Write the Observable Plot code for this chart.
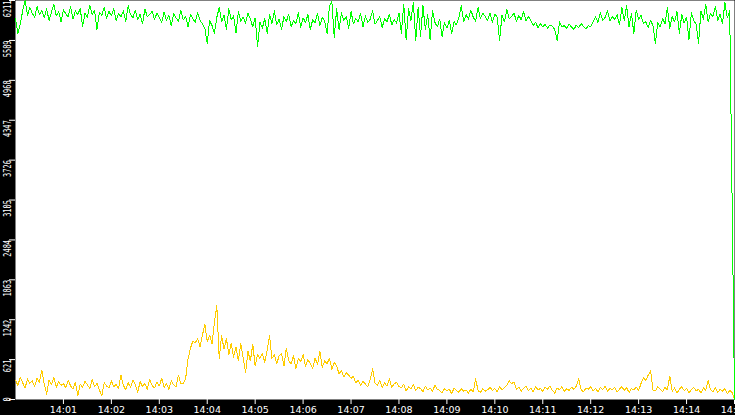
<!DOCTYPE html>
<html>
<head>
<meta charset="utf-8">
<script src="https://cdn.jsdelivr.net/npm/d3@7"></script>
<script src="https://cdn.jsdelivr.net/npm/@observablehq/plot@0.6"></script>
<style>
  html, body { margin: 0; padding: 0; background: black; overflow: hidden; }
  #chart { width: 735px; height: 415px; overflow: hidden; }
</style>
</head>
<body>
<div id="chart"></div>
<script>
// ---- data (sampled every 3 s from 14:00:00 to 14:15:00) ----
const startLabel = "14:00";
const endLabel = "14:15";
const stepSeconds = 3;

const greenValues = [
  5930, 5700, 5850, 6050, 6211, 5980, 6100, 6010, 5950, 6120,
  5990, 6060, 5940, 6080, 5900, 6030, 6150, 5970, 6040, 5880,
  6070, 6000, 5960, 6110, 5920, 6050, 5990, 6090, 5800, 6020,
  5950, 6140, 5990, 6060, 5760, 6030, 5980, 6100, 5930, 6040,
  5970, 6080, 5900, 6010, 5960, 6050, 5880, 6130, 5990, 5940,
  6060, 5910, 6000, 5850, 6080, 5960, 5990, 6040, 5920, 6010,
  5950, 5870, 6030, 5900, 5980, 5820, 6010, 5940, 5890, 6060,
  5910, 5960, 5800, 5990, 5930, 5870, 6020, 5900, 5850, 5780,
  5540, 5900, 5820, 5700, 5950, 6100, 5880, 5990, 5760, 6080,
  5910, 5970, 5700, 6040, 5890, 5950, 5860, 6010, 5920, 5800,
  5940, 5494, 5880, 5780, 5930, 5700, 5990, 5850, 6050, 5830,
  5920, 5760, 5960, 5880, 6000, 5800, 5900, 5850, 6020, 5790,
  5940, 5870, 5990, 5760, 5910, 5860, 6010, 5820, 5950, 5890,
  5700, 6120, 6190, 5640, 6080, 5760, 6020, 5900, 5960, 5780,
  6040, 5850, 5930, 5880, 6010, 5800, 5970, 5870, 5920, 6050,
  5840, 5900, 5960, 5790, 5930, 5880, 6000, 5830, 5910, 5860,
  6020, 5700, 6150, 5600, 6080, 5900, 6180, 5587, 6100, 5650,
  6130, 5760, 5990, 5600, 6050, 5870, 5800, 5920, 5650, 5870,
  5780, 5900, 5700, 5880, 5830, 5950, 6130, 5880, 5990, 5920,
  6060, 5950, 5890, 6100, 5930, 6010, 5960, 5900, 6020, 5870,
  6000, 5950, 5587, 5990, 5880, 6070, 5930, 5960, 6020, 5880,
  5980, 5910, 6040, 5890, 5960, 5900, 5820, 5870, 5790, 5850,
  5800, 5840, 5780, 5830, 5810, 5760, 5587, 5880, 5800, 5820,
  5780, 5840, 5800, 5760, 5830, 5790, 5850, 5810, 5770, 5820,
  5800, 5880, 5960, 5870, 6020, 5900, 5950, 6050, 5890, 5960,
  5920, 5990, 5830, 6100, 5900, 6133, 5800, 6010, 5700, 6060,
  5920, 5980, 5850, 5880, 5790, 5900, 5820, 5540, 5870, 5800,
  5930, 5850, 6100, 5780, 5960, 5880, 6040, 5700, 5990, 5860,
  5950, 5600, 6020, 5900, 5840, 5540, 6050, 5920, 6150, 5880,
  6010, 5960, 6120, 5900, 6000, 5850, 6180, 5940, 6050, 3105,
  0
];

const yellowValues = [
  300, 220, 350, 260, 180, 320, 250, 290, 200, 330,
  270, 460, 240, 85, 300, 230, 350, 190, 280, 220,
  250, 180, 300, 210, 160, 270, 55, 240, 190, 280,
  230, 170, 310, 200, 250, 150, 55, 260, 210, 180,
  290, 200, 240, 170, 380, 220, 150, 260, 190, 300,
  230, 110, 280, 200, 250, 160, 310, 220, 180, 270,
  210, 330, 190, 250, 160, 290, 230, 200, 380, 240,
  250, 330, 630, 800, 910, 880, 950, 820, 1000, 1175,
  900, 1000, 870, 1200, 1457, 640, 1000, 780, 950, 700,
  880, 660, 820, 600, 870, 650, 420, 750, 600, 860,
  520, 700, 640, 720, 580, 760, 990, 640, 700, 560,
  680, 720, 520, 800, 600, 560, 680, 480, 640, 590,
  700, 520, 620, 560, 480, 650, 540, 755, 500, 600,
  560, 640, 470, 580, 520, 400, 450, 350, 420, 380,
  330, 360, 260, 300, 220, 280, 240, 200, 310, 475,
  260, 220, 300, 180, 260, 210, 320, 190, 240, 270,
  200, 180, 240, 130, 200, 160, 230, 140, 190, 170,
  120, 210, 150, 180, 130, 220, 160, 140, 100, 170,
  130, 160, 90, 180, 140, 110, 170, 130, 150, 100,
  160, 120, 320, 140, 110, 170, 130, 150, 190, 140,
  170, 120, 200, 150, 180, 220, 290, 250, 270, 160,
  190, 130, 170, 210, 140, 180, 120, 200, 150, 170,
  130, 190, 160, 210, 140, 100, 180, 150, 200, 130,
  170, 140, 190, 160, 210, 320, 150, 120, 180, 160,
  200, 140, 170, 120, 190, 150, 210, 130, 170, 150,
  190, 120, 160, 200, 140, 180, 110, 170, 150, 190,
  140, 250, 340, 300, 380, 445, 150, 135, 200, 160,
  120, 190, 150, 365, 130, 180, 100, 160, 200, 140,
  170, 110, 150, 190, 130, 160, 100, 180, 140, 300,
  150, 120, 190, 110, 160, 130, 170, 90, 140, 110,
  0
];

const yTickValues = [0, 621, 1242, 1863, 2484, 3105, 3726, 4347, 4968, 5589, 6211];
const xTickLabels = ["14:01","14:02","14:03","14:04","14:05","14:06","14:07","14:08",
                     "14:09","14:10","14:11","14:12","14:13","14:14","14:15"];

// ---- build tables ----
const parseHM = d3.utcParse("%H:%M");
const start = parseHM(startLabel);
const end = parseHM(endLabel);
const toRows = (vals) => vals.map((v, i) => ({t: d3.utcSecond.offset(start, i * stepSeconds), v}));
const greenData = toRows(greenValues);
const yellowData = toRows(yellowValues);
const xTicks = xTickLabels.map(parseHM);

const chart = Plot.plot({
  width: 735,
  height: 415,
  marginLeft: 15,
  marginRight: 1,
  marginTop: 0,
  marginBottom: 16,
  style: {background: "black", color: "white", fontFamily: "DejaVu Sans", fontSize: "9.5px", overflow: "visible"},
  x: {type: "utc", domain: [start, end], ticks: xTicks, tickFormat: d3.utcFormat("%H:%M"), tickSize: 5, tickPadding: 2, label: null},
  y: {domain: [0, 6211], ticks: yTickValues, tickSize: 6, tickFormat: () => "", label: null},
  marks: [
    Plot.frame({fill: "white", stroke: "none"}),
    Plot.line(yellowData, {x: "t", y: "v", stroke: "#ffcc00", strokeWidth: 1, shapeRendering: "crispEdges"}),
    Plot.line(greenData, {x: "t", y: "v", stroke: "#00ff00", strokeWidth: 1, shapeRendering: "crispEdges"}),
    Plot.text(yTickValues.filter(d => d !== 0), {y: d => d, text: d => String(d), frameAnchor: "left", dx: -8,
      rotate: -90, textAnchor: "end", lineAnchor: "middle", fill: "white", fontSize: 11, fontFamily: "DejaVu Sans Mono"}),
    Plot.text([0], {y: d => d, text: d => String(d), frameAnchor: "left", dx: -8,
      rotate: -90, textAnchor: "middle", lineAnchor: "middle", fill: "white", fontSize: 11, fontFamily: "DejaVu Sans Mono"})
  ]
});

document.getElementById("chart").appendChild(chart);

// narrow the rotated y labels to the reference's condensed look
d3.select(chart).selectAll("text").each(function() {
  const tr = this.getAttribute("transform") || "";
  if (tr.includes("rotate(-90")) {
    const n = (this.textContent || "").length;
    this.setAttribute("textLength", (n * 4.2).toFixed(1));
    this.setAttribute("lengthAdjust", "spacingAndGlyphs");
  }
});
</script>
</body>
</html>
